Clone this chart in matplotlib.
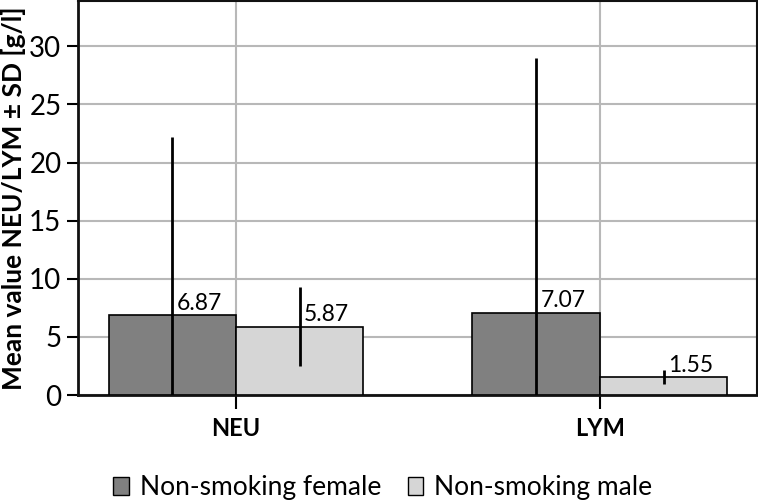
import matplotlib
matplotlib.use('Agg')
import matplotlib.pyplot as plt
import matplotlib.patches as mpatches
import numpy as np

plt.rcParams['font.family'] = ['Lato', 'DejaVu Sans']

# Dados
categories = ['NEU', 'LYM']
series_names = ['Non-smoking female', 'Non-smoking male']
female_mean = [6.87, 7.07]
female_sd = [15.3, 21.9]
male_mean = [5.87, 1.55]
male_sd = [3.4, 0.6]
value_labels_female = ['6.87', '7.07']
value_labels_male = ['5.87', '1.55']

COLORS = {'female': '#808080', 'male': '#d6d6d6'}

fig = plt.figure(figsize=(7.58, 5.03), dpi=100)
ax = fig.add_axes([0.103, 0.2147, 0.8957, 0.7833])

x = np.arange(len(categories))
w = 0.35

def draw_series(offset, means, sds, color, labels):
    means = np.array(means)
    sds = np.array(sds)
    lower = np.minimum(sds, means)  # SD cortado em zero
    pos = x + offset
    ax.bar(pos, means, width=w, color=color, edgecolor='black', linewidth=1.2, zorder=3)
    ax.errorbar(pos, means, yerr=[lower, sds], fmt='none', ecolor='black',
                elinewidth=2, capsize=0, zorder=4)
    for p, m, lab in zip(pos, means, labels):
        ax.annotate(lab, (p, m), xytext=(3, 1), textcoords='offset points',
                    ha='left', va='bottom', fontsize=16.5, zorder=5)

draw_series(-w / 2, female_mean, female_sd, COLORS['female'], value_labels_female)
draw_series(w / 2, male_mean, male_sd, COLORS['male'], value_labels_male)

ax.set_xlim(-0.434, 1.432)
ax.set_ylim(0, 33.9)
ax.set_yticks(np.arange(0, 31, 5))
ax.set_xticks(x)
ax.set_xticklabels(categories, fontsize=17, fontweight='bold')
ax.tick_params(axis='y', labelsize=20, length=8, width=1.5, pad=4)
ax.tick_params(axis='x', length=10, width=1.5, pad=6)
ax.grid(True, color='#b8b8b8', linewidth=1.5, zorder=0)
ax.set_axisbelow(True)
for s in ax.spines.values():
    s.set_linewidth(1.5)
    s.set_color('#111111')
ax.spines['left'].set_linewidth(2)
ax.spines['bottom'].set_linewidth(2)

ax.set_ylabel('Mean value NEU/LYM ± SD [g/l]', fontsize=19, fontweight='bold', labelpad=2)

handles = [mpatches.Patch(facecolor=COLORS['female'], edgecolor='black', label=series_names[0]),
           mpatches.Patch(facecolor=COLORS['male'], edgecolor='black', label=series_names[1])]
fig.legend(handles=handles, loc='center', bbox_to_anchor=(0.505, 0.03), ncol=2,
           frameon=False, fontsize=19, handlelength=0.6, handleheight=0.65,
           handletextpad=0.4, columnspacing=1.0)

plt.savefig('out.png', dpi=100)
